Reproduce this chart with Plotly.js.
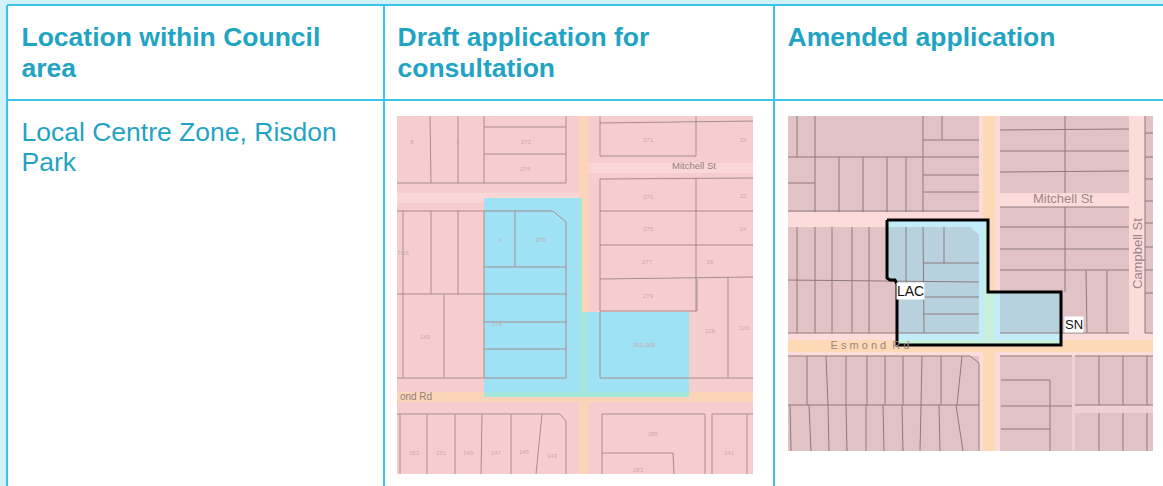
<!DOCTYPE html>
<html><head><meta charset="utf-8">
<script src="https://cdn.plot.ly/plotly-3.0.1.min.js"></script>
<style>html,body{margin:0;padding:0;background:#fff}#c{width:1163px;height:486px}</style>
</head><body><div id="c"></div>
<script>
// Every shape is a polyline [x,y,x,y,...] in the chart's page-coordinate data space.
const pageEdge = [[0,0,1163,0,1163,4,6,4,6,486,0,486]];
const tableRules = [[7,5,1163,5],[7,5,7,486],[7,100,1163,100],[384,5,384,486],[774,5,774,486]];

// Draft application map
const draftBase = [[397,116,753,116,753,474,397,474]];
const draftLaneLight = [[397,193,579,193,579,203,397,203],[588,163,753,163,753,173,588,173]];
const draftRoads = [[579,116,588,116,588,474,579,474],[397,392,753,392,753,402,397,402]];
const draftZone = [[484,198,582,198,582,312,689,312,689,397,484,397]];
const draftZoneRoad = [[579,198,582,198,582,312,588,312,588,397,579,397],[484,392,689,392,689,397,484,397]];
const draftParcels = [
 [430,116,431,183],[458,116,458,183],[484,116,484,183],[566,116,566,183],
 [484,127,566,127],[484,154,566,154],[397,183,566,183],
 [600,116,600,156,696,156],[600,123,753,121],[696,116,696,156],
 [600,179,753,178],[600,179,600,311],[696,179,696,311],[600,211,753,211],[600,245,753,245],
 [600,279,753,277],[697,279,697,311],[728,277,728,378],[600,311,697,311],
 [397,211,553,211,566,222,566,378],[403,211,403,378],[431,211,431,294],[458,211,458,294],[484,211,484,378],
 [515,211,515,267],[484,267,566,267],[397,294,566,294],[444,294,444,378],[484,322,566,322],[484,349,566,349],
 [397,378,566,378],[600,312,600,378,753,378],
 [397,414,560,414,566,421,566,474],[400,414,400,474],[427,414,427,474],[455,414,455,474],[482,414,481,474],
 [511,414,511,474],[542,414,536,474],
 [602,474,602,414,705,414,705,474],[602,453,673,453,674,474],[712,474,712,414,753,414],[747,414,747,474]
];
const draftLabels = ['8','6','272','274','271','15','273','12','275','14','277','16','279','7/16','1','276','278','140','261-265','126','120','153','151','149','147','145','143','285','283','141'];
const draftLabelX = [412,458,526,525,648,743,648,743,648,743,647,710,648,403,500,541,497,425,644,710,744,414,441,468,496,524,552,653,638,729];
const draftLabelY = [142,142,142,169,140,140,197,196,229,229,262,262,296,253,240,240,324,337,345,331,328,453,453,453,453,452,456,434,470,453];

// Amended application map
const amendBase = [[788,116,1153,116,1153,451,788,451]];
const amendRoads = [[983,116,995,116,995,451,983,451],[788,340,1153,340,1153,352,788,352]];
const amendBlocks = [
 [788,116,979,116,979,212,788,212],[1000,116,1129,116,1129,193,1000,193],
 [788,227,979,227,979,333,788,333],[1000,207,1129,207,1129,333,1000,333],
 [1145,116,1153,116,1153,333,1145,333],[788,356,979,356,979,451,788,451],
 [1000,356,1072,356,1072,451,1000,451],[1075,356,1153,356,1153,405,1075,405],[1075,413,1153,413,1153,451,1075,451]
];
const amendLane = [[1072,356,1075,356,1075,451,1072,451],[1075,405,1153,405,1153,413,1075,413]];
const amendZone = [[887,220,988,220,988,292,1061,292,1061,345,897,345,897,284,895,280,890,280,887,278]];
const amendZoneRoad = [[983,227,988,227,988,292,995,292,995,345,983,345],[897,340,1061,340,1061,345,897,345]];
const amendZoneParcel = [
 [887,227,970,227,979,235,979,333,897,333,897,284,895,280,890,280,887,278],
 [1000,292,1060,292,1060,333,1000,333]
];
const amendParcels = [
 [797,116,797,157],[815,116,815,212],[923,116,923,212],[942,116,942,140],[923,140,979,140],[788,157,979,157],
 [923,175,979,175],[923,192,979,192],[788,183,815,183],[839,157,839,212],[863,157,863,212],[887,157,887,212],
 [906,157,906,212],[788,211,979,211],
 [1065,116,1065,193],[1000,130,1129,129],[1000,151,1129,151],[1000,172,1129,171],
 [1000,227,1129,227],[1000,249,1129,249],[1000,270,1129,270],[1065,207,1065,292],[1086,270,1087,333],[1107,270,1107,333],
 [1061,333,1129,333],[1000,207,1129,207],
 [1145,116,1145,333],[1145,133,1153,133],[1145,157,1153,157],[1145,179,1153,179],[1145,201,1153,201],
 [1145,223,1153,223],[1145,247,1153,247],[1145,270,1153,270],[1145,293,1153,293],[1145,333,1153,333],
 [797,227,797,333],[815,227,815,333],[832,227,832,333],[852,227,852,333],[869,227,869,333],
 [906,227,906,283],[923,227,924,333],[944,227,944,263],[923,263,979,263],[788,280,979,282],
 [923,297,979,297],[923,314,979,314],[788,333,979,333],[1000,333,1061,333],
 [788,356,970,356,979,363,979,451],
 [807,356,807,405],[826,356,828,405],[846,356,846,405],[867,356,867,405],[885,356,885,405],[903,356,903,405],
 [922,356,921,405],[941,356,941,405],[962,356,957,405],[788,405,979,405],
 [790,405,791,451],[809,405,811,451],[828,405,829,451],[846,405,847,451],[866,405,866,451],[883,405,884,451],
 [902,405,903,451],[921,405,920,451],[939,405,940,451],[956,405,963,451],
 [1001,380,1050,380,1050,451],[1001,406,1072,406],[1001,429,1050,429],[1000,356,1072,356],
 [1099,356,1099,405],[1123,356,1123,405],[1147,356,1147,405],[1099,413,1099,451],[1123,413,1123,451],[1147,413,1147,451],
 [1075,405,1153,405],[1075,356,1153,356]
];
const amendOutline = [[887,220,988,220,988,292,1061,292,1061,345,897,345,897,284,895,280,890,280,887,278,887,220]];

// Table text
const headLines = ['Location within Council','area','Draft application for','consultation','Amended application'];
const headX = [21.5,21.5,397.5,397.5,787.5];
const headY = [39,70,39,70,39];
const bodyLines = ['Local Centre Zone, Risdon','Park'];
const bodyX = [21.5,21.5];
const bodyY = [134,164];

const toXY = (paths) => {
  const x = [], y = [];
  paths.forEach((p, k) => {
    if (k) { x.push(null); y.push(null); }
    for (let i = 0; i < p.length; i += 2) { x.push(p[i]); y.push(p[i + 1]); }
  });
  return {x, y};
};
const fillTrace = (paths, color) => {
  const closed = paths.map(p => p.concat([p[0], p[1]]));
  return {...toXY(closed), type:'scatter', mode:'lines', fill:'toself', fillcolor:color,
          line:{width:0, color:color}, hoverinfo:'skip', showlegend:false};
};
const lineTrace = (paths, color, width) => ({...toXY(paths), type:'scatter', mode:'lines',
  line:{width:width, color:color, simplify:false}, hoverinfo:'skip', showlegend:false});
const textTrace = (t, x, y, size, color, family, pos) => ({x, y, text:t, type:'scatter', mode:'text',
  textposition:pos || 'middle center', textfont:{size, color, family}, hoverinfo:'skip', showlegend:false});

const SANS = 'Liberation Sans, Arial, sans-serif';
const heading = textTrace(headLines, headX, headY, 26.5, '#1fa4c4', SANS, 'middle right');
heading.textfont.weight = 700;
const traces = [
  fillTrace(pageEdge, '#d2f2fb'),
  lineTrace(tableRules, '#3cc4e8', 2),
  fillTrace(draftBase, '#f6cdcf'),
  fillTrace(draftLaneLight, '#fbd6d7'),
  fillTrace(draftRoads, '#fcd5b8'),
  fillTrace(draftZone, '#a0e2f5'),
  fillTrace(draftZoneRoad, '#a6e6dc'),
  lineTrace(draftParcels, '#a58c8f', 1),
  textTrace(draftLabels, draftLabelX, draftLabelY, 6, '#c4aaac', SANS),
  textTrace(['Mitchell St'], [694], [167], 9.5, '#917f80', SANS),
  textTrace(['ond Rd'], [416], [397], 10, '#917f80', SANS),
  fillTrace(amendBase, '#fcdcdb'),
  fillTrace(amendBlocks, '#e1c3c5'),
  fillTrace(amendLane, '#eed2d3'),
  fillTrace(amendRoads, '#fdd9b6'),
  fillTrace(amendZone, '#c2ecfa'),
  fillTrace(amendZoneRoad, '#c8f0dc'),
  fillTrace(amendZoneParcel, '#b7d2de'),
  lineTrace(amendParcels, '#8f7a7c', 1),
  lineTrace(amendOutline, '#000000', 3),
  textTrace(['Mitchell St'], [1063], [200], 13, '#9c8688', SANS),
  textTrace(['E s m o n d  R d'], [870], [346], 11, '#9c8680', SANS),
  heading,
  textTrace(bodyLines, bodyX, bodyY, 26.5, '#1fa4c4', SANS, 'middle right')
];

const layout = {
  width:1163, height:486, margin:{l:0,r:0,t:0,b:0},
  paper_bgcolor:'#ffffff', plot_bgcolor:'#ffffff', showlegend:false,
  xaxis:{range:[0,1163], visible:false, fixedrange:true},
  yaxis:{range:[486,0], visible:false, fixedrange:true},
  annotations:[
    {x:1137, y:254, text:'Campbell St', textangle:-90, showarrow:false, font:{size:13, color:'#9c8688', family:SANS}},
    {x:910.5, y:291, text:'LAC', showarrow:false, bgcolor:'#ffffff', borderpad:0, font:{size:14, color:'#111111', family:SANS}},
    {x:1073.5, y:324, text:'SN', showarrow:false, bgcolor:'#ffffff', borderpad:0, font:{size:13, color:'#111111', family:SANS}}
  ]
};
Plotly.newPlot('c', traces, layout, {displayModeBar:false, staticPlot:true});
</script></body></html>
